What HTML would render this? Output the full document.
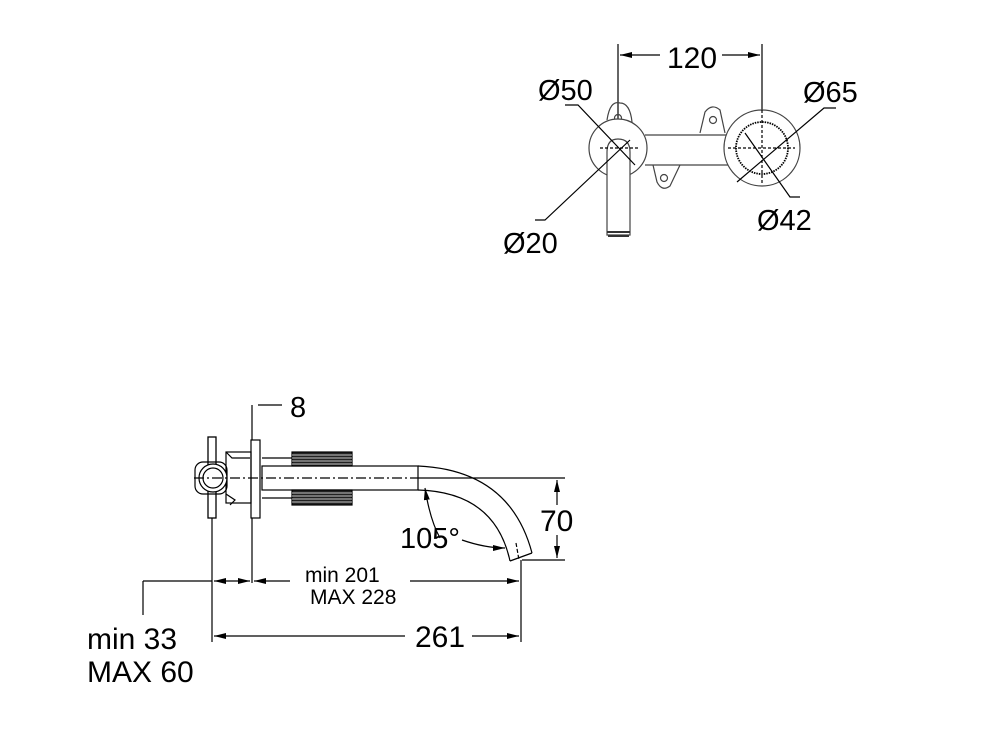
<!DOCTYPE html>
<html><head><meta charset="utf-8"><style>
html,body{margin:0;padding:0;background:#fff;}
svg{display:block}
text{font-family:"Liberation Sans",sans-serif;fill:#000}
</style></head><body>
<svg width="1000" height="750" viewBox="0 0 1000 750" xmlns="http://www.w3.org/2000/svg">
<defs>
<marker id="a" viewBox="0 0 12 6" refX="12" refY="3" markerWidth="12" markerHeight="6" orient="auto-start-reverse" markerUnits="userSpaceOnUse"><path d="M0,0 L12,3 L0,6 z" fill="#000"/></marker>
</defs>
<g fill="none" stroke="#000" stroke-width="1.2">
<line x1="618" y1="44" x2="618" y2="165"/>
<line x1="762" y1="44" x2="762" y2="148"/>
<line x1="620" y1="55" x2="660" y2="55" marker-start="url(#a)"/>
<line x1="722" y1="55" x2="760" y2="55" marker-end="url(#a)"/>
<path d="M607,120 Q610,100 620,103 Q630,103 632,122" stroke="#444"/>
<circle cx="618" cy="118" r="3.5" stroke="#444"/>
<path d="M700,133 L705,112 Q712,103 720,110 L725,133" stroke="#444"/>
<circle cx="713" cy="120" r="3.5" stroke="#444"/>
<path d="M653,165 L657,182 Q662,192 670,186 L680,165" stroke="#444"/>
<circle cx="664" cy="178" r="3.5" stroke="#444"/>
<line x1="645" y1="135" x2="728" y2="135" stroke="#444"/>
<line x1="645" y1="165" x2="728" y2="165" stroke="#444"/>
<circle cx="618" cy="148" r="29" fill="#fff" stroke="#444"/>
<circle cx="762" cy="148" r="38" fill="#fff" stroke="#444"/>
<circle cx="762" cy="148" r="26" stroke="#000" stroke-width="1.8" stroke-dasharray="1.5,1"/>
<path d="M607,235 L607,152 Q607,139 618,139 Q630,139 630,152 L630,235 Z" fill="#fff" stroke="#444"/>
<path d="M607,232 L630,232 M608,236 L629,236" stroke="#333" stroke-width="2"/>
<line x1="600" y1="148" x2="640" y2="148" stroke-dasharray="3,2"/>
<line x1="728" y1="148" x2="795" y2="148" stroke-dasharray="3,2"/>
<line x1="762" y1="110" x2="762" y2="185" stroke-dasharray="3,2"/>
<polyline points="565,105 578,105 635,165"/>
<polyline points="836,108 824,108 737,182"/>
<polyline points="535,220 545,220 630,140"/>
<polyline points="800,197 790,197 745,133"/>
<line x1="252" y1="405" x2="252" y2="583"/>
<line x1="258" y1="405" x2="282" y2="405"/>
<rect x="251" y="440" width="9" height="78" fill="#fff"/>
<rect x="226" y="452" width="25" height="51"/>
<path d="M226,452 L232,458 L250,458"/>
<rect x="208" y="437" width="8" height="81" fill="#fff" stroke-width="1.3"/>
<circle cx="213" cy="478" r="14" fill="#fff"/>
<circle cx="213" cy="478" r="10"/>
<rect x="195" y="462" width="32" height="32" rx="8"/>
<path d="M226,494 L235,500 L230,505"/>
<rect x="262" y="466" width="156" height="24" fill="#fff"/>
<line x1="262" y1="458" x2="292" y2="458"/>
<line x1="262" y1="498" x2="292" y2="498"/>
<rect x="292" y="452" width="60" height="14" fill="#222"/>
<rect x="292" y="490" width="60" height="15" fill="#222"/>
<g stroke="#fff" stroke-width="0.8">
<line x1="292" y1="455" x2="352" y2="455"/><line x1="292" y1="458" x2="352" y2="458"/><line x1="292" y1="461" x2="352" y2="461"/><line x1="292" y1="464" x2="352" y2="464"/>
<line x1="292" y1="493" x2="352" y2="493"/><line x1="292" y1="496" x2="352" y2="496"/><line x1="292" y1="499" x2="352" y2="499"/><line x1="292" y1="502" x2="352" y2="502"/>
</g>
<path d="M418,466 Q510,470 532,553"/>
<path d="M418,490 Q495,492 510,561"/>
<path d="M510,561 L532,553"/>
<line x1="194" y1="478" x2="418" y2="478" stroke-dasharray="10,3,2,3"/>
<line x1="418" y1="478" x2="565" y2="478"/>
<line x1="522" y1="560" x2="565" y2="560"/>
<line x1="516" y1="543" x2="519" y2="560" stroke-dasharray="4,2"/>
<line x1="557" y1="480" x2="557" y2="505" marker-start="url(#a)"/>
<line x1="557" y1="535" x2="557" y2="558" marker-end="url(#a)"/>
<path d="M440,538 Q430,520 425,488" marker-end="url(#a)"/>
<path d="M462,540 Q485,548 505,548" marker-end="url(#a)"/>
<line x1="212" y1="518" x2="212" y2="642"/>
<line x1="521" y1="560" x2="521" y2="642"/>
<line x1="143" y1="581" x2="212" y2="581"/>
<line x1="143" y1="581" x2="143" y2="615"/>
<line x1="214" y1="581" x2="250" y2="581" marker-start="url(#a)" marker-end="url(#a)"/>
<line x1="254" y1="581" x2="290" y2="581" marker-start="url(#a)"/>
<line x1="410" y1="581" x2="519" y2="581" marker-end="url(#a)"/>
<line x1="214" y1="636" x2="405" y2="636" marker-start="url(#a)"/>
<line x1="472" y1="636" x2="519" y2="636" marker-end="url(#a)"/>
</g>
<text x="692" y="68" font-size="30" text-anchor="middle">120</text>
<text x="538" y="100" font-size="29">Ø50</text>
<text x="803" y="102" font-size="29">Ø65</text>
<text x="503" y="253" font-size="29">Ø20</text>
<text x="757" y="230" font-size="29">Ø42</text>
<text x="290" y="417" font-size="29">8</text>
<text x="400" y="548" font-size="29">105°</text>
<text x="540" y="531" font-size="30">70</text>
<text x="305" y="582" font-size="21">min 201</text>
<text x="310" y="604" font-size="21">MAX 228</text>
<text x="440" y="647" font-size="30" text-anchor="middle">261</text>
<text x="87" y="649" font-size="30">min 33</text>
<text x="87" y="682" font-size="30">MAX 60</text>
</svg>
</body></html>
